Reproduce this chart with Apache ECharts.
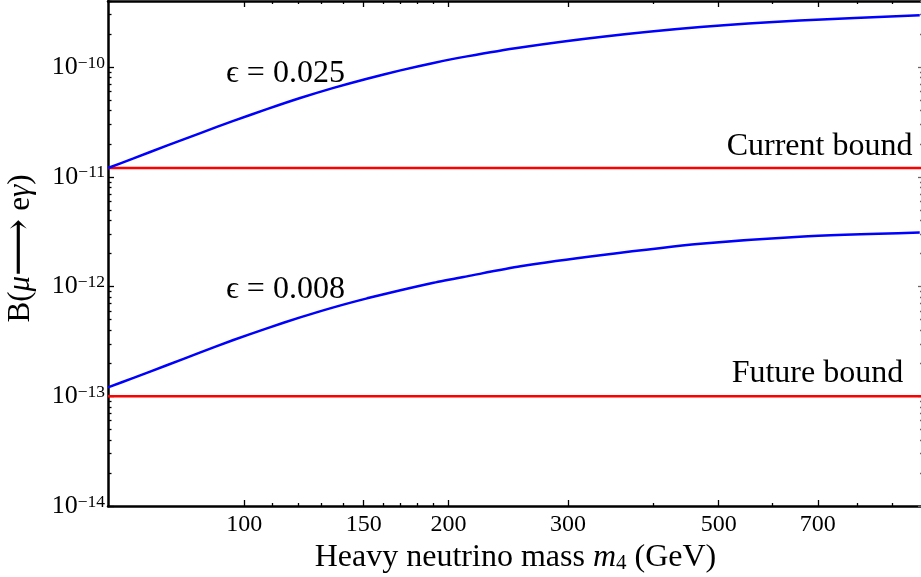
<!DOCTYPE html>
<html>
<head>
<meta charset="utf-8">
<script src="https://cdn.jsdelivr.net/npm/echarts@6/dist/echarts.min.js"></script>
<style>
html,body{margin:0;padding:0;background:#fff;}
#chart{width:921px;height:577px;}
</style>
</head>
<body>
<div id="chart"></div>
<script>
// ---- data ----
const mass = [63, 68.7, 76.9, 86.2, 96.4, 108.0, 120.9, 135.4, 151.7, 169.9, 190.1, 212.9, 255.3, 334.8, 470, 658, 989];
const bEps025 = [1.202e-11, 1.472e-11, 1.922e-11, 2.504e-11, 3.234e-11, 4.134e-11, 5.218e-11, 6.463e-11, 7.838e-11, 9.33e-11, 1.090e-10, 1.252e-10, 1.509e-10, 1.880e-10, 2.314e-10, 2.663e-10, 2.965e-10];
const bEps008 = [1.207e-13, 1.469e-13, 1.918e-13, 2.509e-13, 3.254e-13, 4.160e-13, 5.231e-13, 6.463e-13, 7.806e-13, 9.253e-13, 1.081e-12, 1.238e-12, 1.528e-12, 1.924e-12, 2.449e-12, 2.849e-12, 3.111e-12];
const currentBound = 1.2e-11;
const futureBound = 1e-13;
const xRange = [63, 1000];
const yRange = [1e-14, 4e-10];
const xMajorTicks = [100, 150, 200, 300, 500, 700];
const xMinorTicks = [110, 120, 130, 140, 160, 170, 180, 190, 400, 600, 800, 900];
const yMajorTicks = [1e-14, 1e-13, 1e-12, 1e-11, 1e-10];
const yMinorTicks = [2e-14,3e-14,4e-14,5e-14,6e-14,7e-14,8e-14,9e-14,
  2e-13,3e-13,4e-13,5e-13,6e-13,7e-13,8e-13,9e-13,
  2e-12,3e-12,4e-12,5e-12,6e-12,7e-12,8e-12,9e-12,
  2e-11,3e-11,4e-11,5e-11,6e-11,7e-11,8e-11,9e-11,
  2e-10,3e-10,4e-10];
const labelEps025 = 'ϵ = 0.025';
const labelEps008 = 'ϵ = 0.008';
const labelCurrent = 'Current bound';
const labelFuture = 'Future bound';

const FONT = '"Liberation Serif", "DejaVu Serif", serif';

function pairs(xs, ys) { return xs.map((x, i) => [x, ys[i]]); }

const chart = echarts.init(document.getElementById('chart'), null, {renderer: 'canvas'});

function xAxisDef(position, ticks, len, withLine, withLabel) {
  return {
    type: 'log', position: position, min: xRange[0], max: xRange[1],
    axisLine: {show: withLine, onZero: false, lineStyle: {color: '#000', width: 2.5}},
    axisTick: {show: true, inside: true, length: len, customValues: ticks, lineStyle: {color: '#000', width: 1.3}},
    axisLabel: withLabel ? {show: true, customValues: ticks, margin: 7, fontSize: 24, fontFamily: FONT, color: '#000',
      formatter: v => String(Math.round(v))} : {show: false},
    splitLine: {show: false}, minorTick: {show: false}, minorSplitLine: {show: false}
  };
}
function yAxisDef(position, ticks, len, withLine, withLabel, color) {
  return {
    type: 'log', position: position, min: yRange[0], max: yRange[1],
    axisLine: {show: withLine, onZero: false, lineStyle: {color: '#000', width: 2.5}},
    axisTick: {show: true, inside: true, length: len, customValues: ticks, lineStyle: {color: color, width: 1.3}},
    axisLabel: withLabel ? {
      show: true, customValues: ticks, margin: 3, fontFamily: FONT, color: '#000',
      formatter: v => '{b|10}{s|\u2212' + Math.round(-Math.log10(v)) + '}',
      rich: {
        b: {fontSize: 26, lineHeight: 26, fontFamily: FONT, color: '#000'},
        s: {fontSize: 17.5, lineHeight: 17, verticalAlign: 'top', fontFamily: FONT, color: '#000'}
      }
    } : {show: false},
    splitLine: {show: false}, minorTick: {show: false}, minorSplitLine: {show: false}
  };
}

const xa0 = xAxisDef('bottom', xMajorTicks, 6, true, true);
xa0.name = '{n|Heavy neutrino mass }{i|m}{sub|4}{n| (GeV)}';
xa0.nameLocation = 'middle';
xa0.nameGap = 35;
xa0.nameTextStyle = {
  fontFamily: FONT, color: '#000', fontSize: 32,
  rich: {
    n: {fontSize: 32, lineHeight: 32, fontFamily: FONT, color: '#000'},
    i: {fontSize: 32, lineHeight: 32, fontStyle: 'italic', fontFamily: FONT, color: '#000'},
    sub: {fontSize: 21, lineHeight: 16, verticalAlign: 'bottom', fontFamily: FONT, color: '#000'}
  }
};

const ya0 = yAxisDef('left', yMajorTicks, 6, true, true, '#000');
ya0.name = '{n|B(}{i|μ}{a|⟶}{n| e}{i|γ}{n|)}';
ya0.nameLocation = 'middle';
ya0.nameRotate = 90;
ya0.nameGap = 68;
ya0.nameTextStyle = {
  fontFamily: FONT, color: '#000', fontSize: 31,
  padding: [0, 0, 0, 10],
  rich: {
    n: {fontSize: 31, lineHeight: 31, fontFamily: FONT, color: '#000'},
    i: {fontSize: 31, lineHeight: 31, fontStyle: 'italic', fontFamily: FONT, color: '#000'},
    a: {fontSize: 40, lineHeight: 31, fontFamily: FONT, color: '#000'}
  }
};

function textPoint(text, coord, size) {
  return {
    coord: coord, symbol: 'circle', symbolSize: 0.001,
    itemStyle: {color: 'rgba(0,0,0,0)'},
    label: {show: true, position: 'inside', formatter: text, fontSize: size, fontFamily: FONT, color: '#000'}
  };
}

const option = {
  animation: false,
  backgroundColor: '#fff',
  grid: {left: 108, right: -2, top: 1, bottom: 71, containLabel: false, outerBoundsMode: 'none'},
  xAxis: [
    xa0,
    xAxisDef('bottom', xMinorTicks, 3, false, false),
    xAxisDef('top', xMajorTicks, 6, true, false),
    xAxisDef('top', xMinorTicks, 3, false, false)
  ],
  yAxis: [
    ya0,
    yAxisDef('left', yMinorTicks, 3.5, false, false, '#000'),
    yAxisDef('right', yMajorTicks, 5, true, false, '#666'),
    yAxisDef('right', yMinorTicks, 3, false, false, '#666')
  ],
  series: [
    {
      name: 'eps025', type: 'line', xAxisIndex: 0, yAxisIndex: 0,
      data: pairs(mass, bEps025), smooth: 0.25, symbol: 'none', showSymbol: false,
      lineStyle: {color: '#0000ff', width: 2.5}, z: 3,
      markPoint: {silent: true, data: [textPoint(labelEps025, [115, 8.8e-11], 32)]}
    },
    {
      name: 'eps008', type: 'line', xAxisIndex: 0, yAxisIndex: 0,
      data: pairs(mass, bEps008), smooth: 0.25, symbol: 'none', showSymbol: false,
      lineStyle: {color: '#0000ff', width: 2.5}, z: 3,
      markPoint: {silent: true, data: [textPoint(labelEps008, [115, 9.4e-13], 32)]}
    },
    {
      name: 'current', type: 'line', xAxisIndex: 0, yAxisIndex: 0,
      data: [[xRange[0], currentBound], [xRange[1], currentBound]], symbol: 'none', showSymbol: false,
      lineStyle: {color: '#ff0000', width: 2.5}, z: 2,
      markPoint: {silent: true, data: [textPoint(labelCurrent, [704, 1.88e-11], 32)]}
    },
    {
      name: 'future', type: 'line', xAxisIndex: 0, yAxisIndex: 0,
      data: [[xRange[0], futureBound], [xRange[1], futureBound]], symbol: 'none', showSymbol: false,
      lineStyle: {color: '#ff0000', width: 2.5}, z: 2,
      markPoint: {silent: true, data: [textPoint(labelFuture, [699, 1.6e-13], 32)]}
    }
  ]
};
chart.setOption(option);
</script>
</body>
</html>
